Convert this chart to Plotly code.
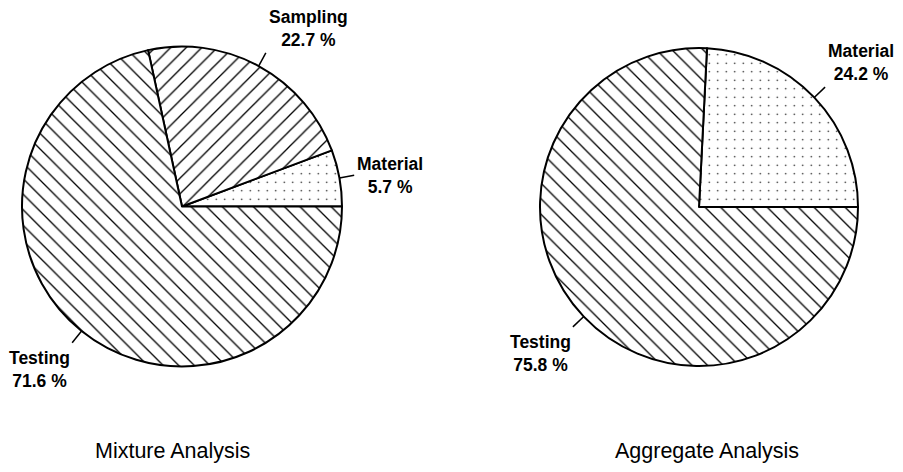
import math
import plotly.graph_objects as go

# ---- data ----
mix_labels = ["Material", "Sampling", "Testing"]
mix_values = [5.7, 22.7, 71.6]
mix_patterns = [".", "/", "\\"]

agg_labels = ["Material", "Testing"]
agg_values = [24.2, 75.8]
agg_patterns = [".", "\\"]

titles = ["Mixture Analysis", "Aggregate Analysis"]

# ---- layout constants (pixels, as seen on the page) ----
W, H = 903, 472
OFF = 8  # page body margin offset of the rendered figure
pies = [
    dict(cx=182, cy=206.5, r=160, tx=172, labels=mix_labels, values=mix_values, pats=mix_patterns, title=titles[0]),
    dict(cx=699, cy=207, r=159, tx=707, labels=agg_labels, values=agg_values, pats=agg_patterns, title=titles[1]),
]
FONT = "Liberation Sans, Arial, Helvetica, sans-serif"
LEADER = 15
TITLE_Y = 451


def px(x):
    return (x - OFF) / W


def py(y):
    return (H - (y - OFF)) / H


fig = go.Figure()
annotations = []
shapes = []

for p in pies:
    cx, cy, r = p["cx"], p["cy"], p["r"]
    total = sum(p["values"])
    first_deg = 360.0 * p["values"][0] / total
    fig.add_trace(go.Pie(
        labels=p["labels"],
        values=p["values"],
        sort=False,
        direction="counterclockwise",
        rotation=90 - first_deg,
        textinfo="none",
        hoverinfo="label+percent",
        showlegend=False,
        domain=dict(x=[px(cx - r), px(cx + r)], y=[py(cy + r), py(cy - r)]),
        marker=dict(
            colors=["white"] * len(p["values"]),
            line=dict(color="black", width=2),
            pattern=dict(
                shape=p["pats"],
                fgcolor="black",
                bgcolor="white",
                size=[8.5 if s == "." else 11 for s in p["pats"]],
                solidity=[0.025 if s == "." else 0.12 for s in p["pats"]],
                fillmode="replace",
            ),
        ),
    ))

    cum = 0.0
    for lab, v in zip(p["labels"], p["values"]):
        mid = math.radians(360.0 * (cum + v / 2.0) / total)
        cum += v
        c, s = math.cos(mid), math.sin(mid)
        x0, y0 = cx + r * c, cy - r * s
        x1, y1 = cx + (r + LEADER) * c, cy - (r + LEADER) * s
        shapes.append(dict(type="line", xref="paper", yref="paper",
                           x0=px(x0), y0=py(y0), x1=px(x1), y1=py(y1),
                           line=dict(color="black", width=1.5)))
        xanchor = "left" if c > 0 else "right"
        if abs(s) < 0.5:
            yanchor = "middle"
        elif s > 0:
            yanchor = "bottom"
        else:
            yanchor = "top"
        tx = x1 + (1 if c > 0 else 0)
        ty = y1 + (0 if yanchor == "middle" else (-1 if s > 0 else 3))
        annotations.append(dict(
            x=px(tx), y=py(ty), xref="paper", yref="paper",
            text=f"{lab}<br>{v} %", showarrow=False,
            xanchor=xanchor, yanchor=yanchor, align="center",
            font=dict(family=FONT, size=17.5, color="black", weight="bold"),
        ))

    annotations.append(dict(
        x=px(p["tx"]), y=py(TITLE_Y), xref="paper", yref="paper",
        text=p["title"], showarrow=False, xanchor="center", yanchor="middle",
        font=dict(family=FONT, size=21.5, color="black"),
    ))

fig.update_layout(
    width=W, height=H,
    margin=dict(l=0, r=0, t=0, b=0),
    paper_bgcolor="white", plot_bgcolor="white",
    annotations=annotations, shapes=shapes,
)

fig.write_html("out.html")
